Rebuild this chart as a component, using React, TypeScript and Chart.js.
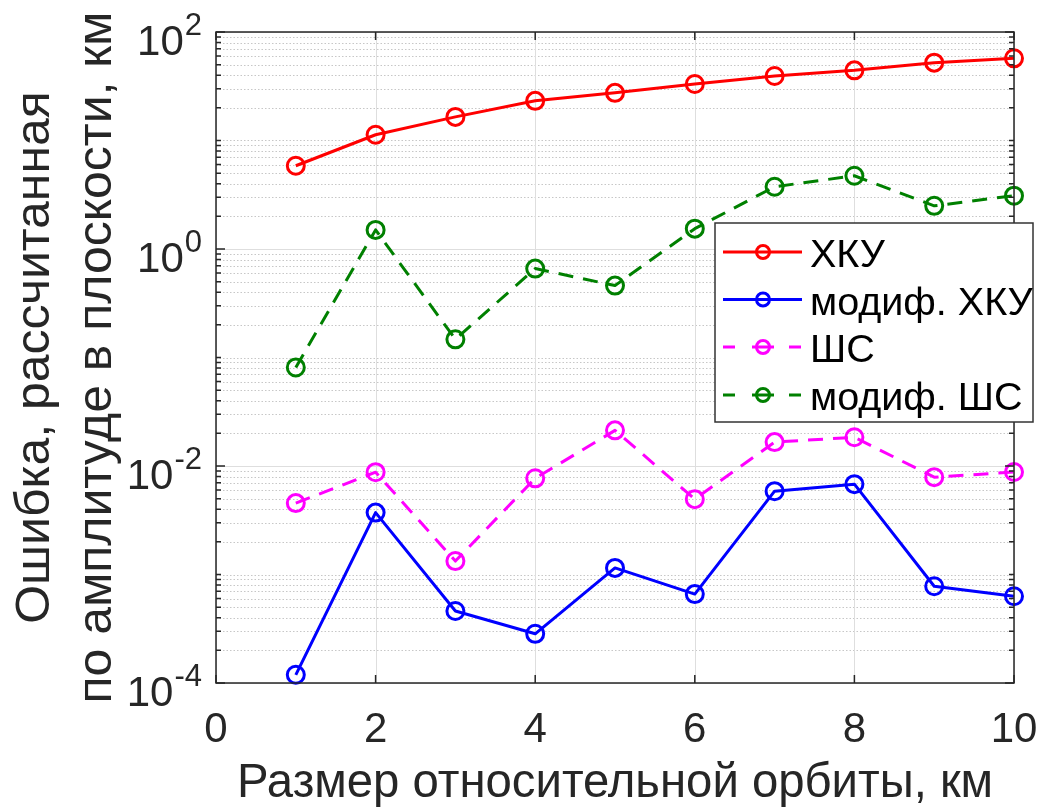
import React, { useEffect, useRef } from "react";
import { Chart, registerables } from "chart.js";

Chart.register(...registerables);

const xValues = [1, 2, 3, 4, 5, 6, 7, 8, 9, 10];
const hkuValues = [5.85, 11.3, 16.5, 23.2, 27.5, 33.2, 39.3, 44.3, 52.2, 57.2];
const modHkuValues = [0.000119, 0.00372, 0.000461, 0.000284, 0.00115, 0.00066, 0.00586, 0.0068, 0.00078, 0.00063];
const shsValues = [0.00455, 0.00877, 0.00133, 0.0077, 0.0213, 0.00495, 0.0166, 0.0184, 0.00789, 0.0088];
const modShsValues = [0.081, 1.5, 0.147, 0.66, 0.46, 1.54, 3.75, 4.73, 2.5, 3.1];

const seriesLabels = ["ХКУ", "модиф. ХКУ", "ШС", "модиф. ШС"];
const seriesColors = ["#ff0000", "#0000ff", "#ff00ff", "#008000"];
const seriesDashed = [false, false, true, true];

const xTicks = [0, 2, 4, 6, 8, 10];
const yTickExponents = [-4, -2, 0, 2];
const xTitle = "Размер относительной орбиты, км";
const yTitleLines = ["Ошибка, рассчитанная", "по амплитуде в плоскости, км"];

const FONT = '"Liberation Sans", Arial, Helvetica, sans-serif';
const AXIS_COLOR = "#262626";

const decorPlugin = {
  id: "matlabDecor",
  beforeDatasetsDraw(chart: any) {
    const { ctx, chartArea } = chart;
    const xs = chart.scales.x;
    const ys = chart.scales.y;
    const { left, right, top, bottom } = chartArea;
    ctx.save();
    ctx.fillStyle = "#ffffff";
    ctx.fillRect(left, top, right - left, bottom - top);
    // minor horizontal grid (dotted)
    ctx.strokeStyle = "rgba(0,0,0,0.22)";
    ctx.lineWidth = 1;
    ctx.setLineDash([1.5, 2]);
    for (let n = -4; n <= 1; n++) {
      for (let m = 1; m <= 9; m++) {
        if (m === 1 && n % 2 === 0) continue;
        const v = m * Math.pow(10, n);
        const y = Math.round(ys.getPixelForValue(v)) + 0.5;
        ctx.beginPath();
        ctx.moveTo(left, y);
        ctx.lineTo(right, y);
        ctx.stroke();
      }
    }
    ctx.setLineDash([]);
    // major grid (solid)
    ctx.strokeStyle = "#dedede";
    for (const e of yTickExponents) {
      const y = Math.round(ys.getPixelForValue(Math.pow(10, e))) + 0.5;
      ctx.beginPath();
      ctx.moveTo(left, y);
      ctx.lineTo(right, y);
      ctx.stroke();
    }
    for (const t of xTicks) {
      const x = Math.round(xs.getPixelForValue(t)) + 0.5;
      ctx.beginPath();
      ctx.moveTo(x, top);
      ctx.lineTo(x, bottom);
      ctx.stroke();
    }
    ctx.restore();
  },
  afterDraw(chart: any) {
    const { ctx, chartArea } = chart;
    const xs = chart.scales.x;
    const ys = chart.scales.y;
    const { left, right, top, bottom } = chartArea;
    ctx.save();
    // box
    ctx.strokeStyle = AXIS_COLOR;
    ctx.lineWidth = 1.5;
    ctx.strokeRect(left, top, right - left, bottom - top);
    // x ticks
    for (const t of xTicks) {
      const x = xs.getPixelForValue(t);
      ctx.beginPath();
      ctx.moveTo(x, bottom);
      ctx.lineTo(x, bottom - 8);
      ctx.moveTo(x, top);
      ctx.lineTo(x, top + 8);
      ctx.stroke();
    }
    // y ticks
    for (let n = -4; n <= 2; n++) {
      for (let m = 1; m <= 9; m++) {
        if (n === 2 && m > 1) break;
        const v = m * Math.pow(10, n);
        const y = ys.getPixelForValue(v);
        const major = m === 1 && n % 2 === 0;
        const len = major ? 9 : 5;
        ctx.beginPath();
        ctx.moveTo(left, y);
        ctx.lineTo(left + len, y);
        ctx.moveTo(right, y);
        ctx.lineTo(right - len, y);
        ctx.stroke();
      }
    }
    // x tick labels
    ctx.fillStyle = AXIS_COLOR;
    ctx.font = `42px ${FONT}`;
    ctx.textAlign = "center";
    ctx.textBaseline = "alphabetic";
    for (const t of xTicks) {
      ctx.fillText(String(t), xs.getPixelForValue(t), 742);
    }
    // y tick labels 10^e
    for (const e of yTickExponents) {
      const y = ys.getPixelForValue(Math.pow(10, e));
      const expText = String(e);
      ctx.font = `31px ${FONT}`;
      const ew = ctx.measureText(expText).width;
      ctx.textAlign = "right";
      ctx.fillText(expText, 202, y + 3);
      ctx.font = `42px ${FONT}`;
      ctx.fillText("10", 202 - ew - 1, y + 23);
    }
    // x title
    ctx.save();
    ctx.font = `48px ${FONT}`;
    ctx.textAlign = "center";
    ctx.translate((left + right) / 2, 797);
    ctx.scale(0.985, 1);
    ctx.fillText(xTitle, 0, 0);
    ctx.restore();
    // y title
    ctx.save();
    ctx.font = `48px ${FONT}`;
    ctx.translate(0, (top + bottom) / 2);
    ctx.rotate(-Math.PI / 2);
    ctx.scale(1.04, 1);
    ctx.textAlign = "center";
    ctx.fillText(yTitleLines[0], 0, 49);
    ctx.fillText(yTitleLines[1], 0, 111);
    ctx.restore();

    // legend
    const lx0 = 715, ly0 = 223, lx1 = 1033, ly1 = 422;
    ctx.fillStyle = "#ffffff";
    ctx.fillRect(lx0, ly0, lx1 - lx0, ly1 - ly0);
    ctx.strokeStyle = "#333333";
    ctx.lineWidth = 1.5;
    ctx.strokeRect(lx0, ly0, lx1 - lx0, ly1 - ly0);
    const rows = [252, 299.5, 347, 395];
    for (let i = 0; i < seriesLabels.length; i++) {
      const ry = rows[i];
      ctx.strokeStyle = seriesColors[i];
      ctx.lineWidth = 3;
      ctx.beginPath();
      if (seriesDashed[i]) {
        ctx.moveTo(723, ry); ctx.lineTo(735, ry);
        ctx.moveTo(752, ry); ctx.lineTo(774, ry);
        ctx.moveTo(789, ry); ctx.lineTo(801, ry);
      } else {
        ctx.moveTo(723, ry); ctx.lineTo(802, ry);
      }
      ctx.stroke();
      ctx.beginPath();
      ctx.arc(763, ry, 6.5, 0, Math.PI * 2);
      ctx.stroke();
      ctx.fillStyle = "#000000";
      ctx.font = `39.5px ${FONT}`;
      ctx.textAlign = "left";
      ctx.fillText(seriesLabels[i], 810, ry + 15);
    }
    ctx.restore();
  },
};

export default function App() {
  const canvasRef = useRef<HTMLCanvasElement | null>(null);

  useEffect(() => {
    if (!canvasRef.current) return;
    const allSeries = [hkuValues, modHkuValues, shsValues, modShsValues];
    const datasets = allSeries.map((vals, i) => ({
      label: seriesLabels[i],
      data: xValues.map((x, j) => ({ x, y: vals[j] })),
      borderColor: seriesColors[i],
      backgroundColor: "rgba(0,0,0,0)",
      pointBackgroundColor: "rgba(0,0,0,0)",
      pointBorderColor: seriesColors[i],
      pointBorderWidth: 3,
      pointRadius: 8.5,
      pointHoverRadius: 8.5,
      borderWidth: 3,
      borderDash: seriesDashed[i] ? [15, 10] : [],
      borderJoinStyle: "round" as const,
      tension: 0,
      fill: false,
      clip: false as any,
    }));
    const chart = new Chart(canvasRef.current, {
      type: "line",
      data: { datasets },
      options: {
        responsive: false,
        animation: false,
        devicePixelRatio: 1,
        layout: { padding: { left: 216, top: 32, right: 27, bottom: 126 } },
        plugins: { legend: { display: false }, tooltip: { enabled: false }, title: { display: false } },
        scales: {
          x: { type: "linear", min: 0, max: 10, display: false },
          y: { type: "logarithmic", min: 1e-4, max: 1e2, display: false },
        },
      },
      plugins: [decorPlugin],
    });
    return () => chart.destroy();
  }, []);

  return (
    <div style={{ position: "absolute", left: 0, top: 0, width: 1041, height: 809, background: "#ffffff" }}>
      <canvas ref={canvasRef} width={1041} height={809} style={{ display: "block" }} />
    </div>
  );
}
